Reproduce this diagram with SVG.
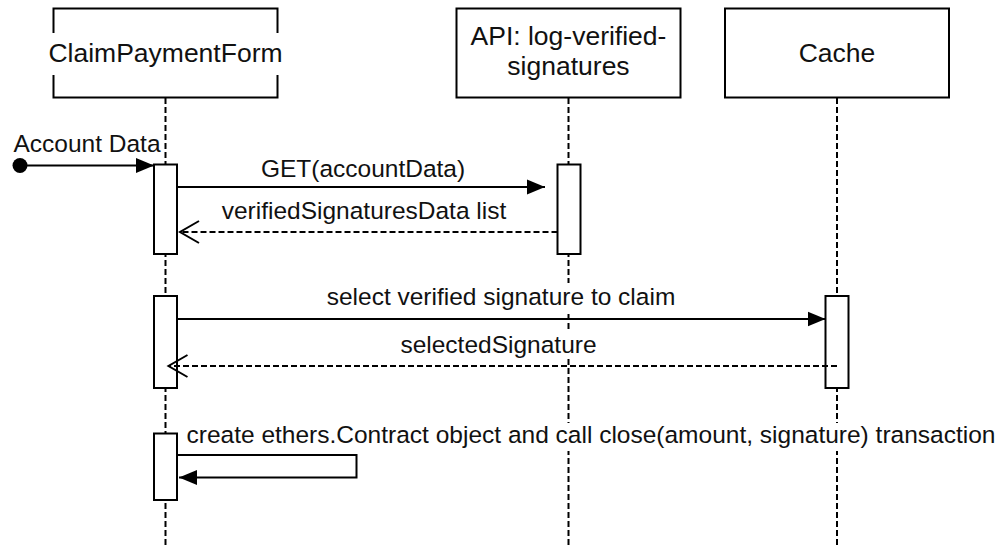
<svg xmlns="http://www.w3.org/2000/svg" width="1003" height="548" viewBox="0 0 1003 548">
<style>
.box{fill:#fff;stroke:#000;stroke-width:2}
.life{stroke:#000;stroke-width:2;stroke-dasharray:6 3;fill:none}
.act{fill:#fff;stroke:#000;stroke-width:2}
.pl{font-family:"Liberation Sans",Arial,Helvetica,sans-serif;font-size:26.5px;fill:#111;text-anchor:middle}
.ml{font-family:"Liberation Sans",Arial,Helvetica,sans-serif;font-size:24.5px;fill:#111}
.msg{stroke:#000;stroke-width:2;fill:none}
.ret{stroke:#000;stroke-width:2;fill:none;stroke-dasharray:6 3}
.bg{fill:#fff}
</style>
<defs>
<marker id="filled" markerUnits="userSpaceOnUse" markerWidth="20" markerHeight="16" refX="18" refY="8" orient="auto">
<path d="M0,0.5 L18,8 L0,15.5 Z" fill="#000"/>
</marker>
<marker id="open" markerUnits="userSpaceOnUse" markerWidth="24" markerHeight="26" refX="21" refY="13" orient="auto">
<path d="M2,2 L21,13 L2,24" fill="none" stroke="#000" stroke-width="2"/>
</marker>
</defs>

<g id="ClaimPaymentForm">
<line class="life" x1="165.5" y1="98" x2="165.5" y2="546"/>
<rect class="box" x="53.5" y="8.5" width="224" height="89"/>
<rect class="bg" x="44" y="33" width="239" height="42"/>
<text class="pl" x="165.5" y="62">ClaimPaymentForm</text>
<rect class="act" x="154" y="164.5" width="23" height="89.5"/>
<rect class="act" x="154" y="296" width="23" height="92"/>
<rect class="act" x="154" y="433.5" width="23" height="66.5"/>
</g>

<g id="API">
<line class="life" x1="568.5" y1="98" x2="568.5" y2="546"/>
<rect class="box" x="456.5" y="8.5" width="224" height="89"/>
<text class="pl" x="568.5" y="45">API: log-verified-</text>
<text class="pl" x="568.5" y="75">signatures</text>
<rect class="act" x="557.5" y="164.5" width="23" height="89.5"/>
</g>

<g id="Cache">
<line class="life" x1="837" y1="98" x2="837" y2="546"/>
<rect class="box" x="725" y="8.5" width="224" height="89"/>
<text class="pl" x="837" y="61.5">Cache</text>
<rect class="act" x="825.5" y="296" width="23" height="92"/>
</g>

<g id="connectors">
<circle cx="20" cy="165.5" r="7.5" fill="#000"/>
<line class="msg" x1="20" y1="165.5" x2="154" y2="165.5" marker-end="url(#filled)"/>
<text class="ml" x="87" y="151.5" text-anchor="middle">Account Data</text>

<line class="msg" x1="177" y1="187" x2="545" y2="187" marker-end="url(#filled)"/>
<text class="ml" x="363" y="176.5" text-anchor="middle">GET(accountData)</text>

<line class="ret" x1="557.5" y1="232" x2="180" y2="232" marker-end="url(#open)"/>
<text class="ml" x="364" y="218.5" text-anchor="middle">verifiedSignaturesData list</text>

<rect class="bg" x="324" y="283" width="354" height="29"/>
<line class="msg" x1="177" y1="319" x2="825.5" y2="319" marker-end="url(#filled)"/>
<text class="ml" x="501" y="305" text-anchor="middle">select verified signature to claim</text>

<rect class="bg" x="397" y="331" width="203" height="28"/>
<line class="ret" x1="837" y1="366" x2="168.5" y2="366" marker-end="url(#open)"/>
<text class="ml" x="498.5" y="352.5" text-anchor="middle">selectedSignature</text>

<rect class="bg" x="184" y="423" width="816" height="28"/>
<text class="ml" x="186.5" y="443">create ethers.Contract object and call close(amount, signature) transaction</text>
<path class="msg" d="M177,455 H356.5 V477.5 H179" marker-end="url(#filled)"/>
</g>
</svg>
